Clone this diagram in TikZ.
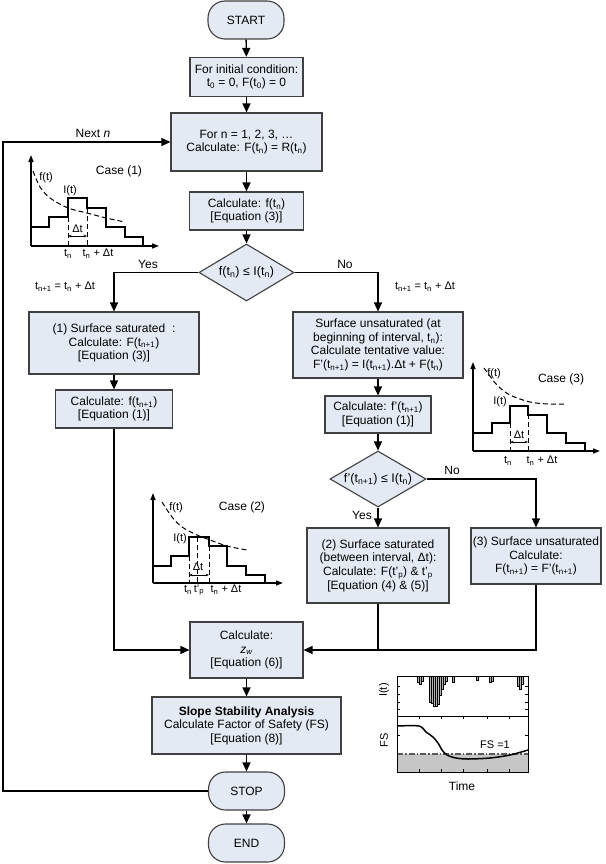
\documentclass[tikz,border=0pt]{standalone}
\usepackage{fontspec}
\setmainfont{Liberation Sans}
\usetikzlibrary{arrows.meta,shapes.geometric}
\definecolor{boxfill}{RGB}{228,234,244}
\definecolor{boxline}{RGB}{64,64,64}
\newcommand\sbs[1]{\textsubscript{#1}}
\newcommand\fs{\fontsize{12}{13.6}\selectfont}
\newcommand\fsm{\fontsize{11}{12}\selectfont}
\newcommand\fsd{\fontsize{12.5}{13}\selectfont}
\tikzset{
  proc/.style={draw=boxline, fill=boxfill, line width=1.1pt, align=center, inner sep=0pt, font=\fs},
  term/.style={proc, rounded corners=17pt, minimum width=76pt, minimum height=38pt},
  dia/.style={diamond, draw=boxline, fill=boxfill, line width=1.1pt, inner sep=0pt},
  arr/.style={-{Triangle[length=9pt,width=8pt]}, line width=1.4pt},
  ln/.style={line width=1.4pt},
  lbl/.style={font=\fs, inner sep=0pt},
  slbl/.style={font=\fsm, inner sep=0pt},
  ax/.style={-{Triangle[length=7pt,width=5pt]}, line width=1.3pt},
  stepl/.style={line width=1.2pt},
  dsh/.style={dash pattern=on 5pt off 3pt, line width=1pt},
  dt/.style={{Stealth[length=3.5pt]}-{Stealth[length=3.5pt]}, line width=0.6pt},
  bar/.style={fill=gray!60, draw=black, line width=0.4pt},
}
\begin{document}
\begin{tikzpicture}[x=1pt,y=-1pt]
\useasboundingbox (0,0) rectangle (605,864);

% ---- main column ----
\node[term] (start) at (246,20) {START};
\node[proc, minimum width=113pt, minimum height=39pt] (init) at (246.5,77) {For initial condition:\\ t\sbs{0} = 0, F(t\sbs{0}) = 0};
\node[proc, minimum width=151pt, minimum height=58pt] (forn) at (246.5,142) {For n = 1, 2, 3, …\\ Calculate: F(t\sbs{n}) = R(t\sbs{n})};
\node[proc, minimum width=114pt, minimum height=38pt] (calcf) at (246.5,211) {Calculate: f(t\sbs{n})\\ {[Equation (3)]}};
\node[dia, minimum width=95pt, minimum height=57pt] (d1) at (246.5,272.5) {};
\node[font=\fsd] (d1t) at (d1) {f(t\sbs{n}) ≤ I(t\sbs{n})};

% ---- left branch ----
\node[proc, minimum width=170pt, minimum height=62pt] (box1) at (114,343) {(1) Surface saturated~~:\\ Calculate: F(t\sbs{n+1})\\ {[Equation (3)]}};
\node[proc, minimum width=117pt, minimum height=38pt] (calc1) at (114,409) {Calculate: f(t\sbs{n+1})\\ {[Equation (1)]}};

% ---- right branch ----
\node[proc, minimum width=170pt, minimum height=66pt] (boxr) at (378,345) {Surface unsaturated (at\\ beginning of interval, t\sbs{n}):\\ Calculate tentative value:\\ F'(t\sbs{n+1}) = I(t\sbs{n+1}).Δt + F(t\sbs{n})};
\node[proc, minimum width=106pt, minimum height=37pt] (calcp) at (378,414.5) {Calculate: f'(t\sbs{n+1})\\ {[Equation (1)]}};
\node[dia, minimum width=96pt, minimum height=56pt] (d2) at (378,479) {};
\node[font=\fsd] (d2t) at (d2) {f'(t\sbs{n+1}) ≤ I(t\sbs{n})};
\node[proc, minimum width=142pt, minimum height=75pt] (box2) at (378,565.5) {(2) Surface saturated\\ (between interval, Δt):\\ Calculate: F(t'\sbs{p}) \& t'\sbs{p}\\ {[Equation (4) \& (5)]}};
\node[proc, minimum width=130pt, minimum height=56pt] (box3) at (536,556) {(3) Surface unsaturated\\ Calculate:\\ F(t\sbs{n+1}) = F'(t\sbs{n+1})};

% ---- bottom ----
\node[proc, minimum width=113pt, minimum height=56pt] (zw) at (246.5,650) {Calculate:\\ \textit{z\sbs{w}}\\ {[Equation (6)]}};
\node[proc, minimum width=189pt, minimum height=57pt] (slope) at (246.5,725.5) {\textbf{Slope Stability Analysis}\\ Calculate Factor of Safety (FS)\\ {[Equation (8)]}};
\node[term] (stop) at (246.5,791) {STOP};
\node[term] (end) at (246.5,843) {END};
\coordinate (loop) at (3,791);

% ---- connectors ----
\draw[arr] (start) -- (init);
\draw[arr] (init) -- (forn);
\draw[arr] (forn) -- (calcf);
\draw[arr] (calcf) -- (d1);
\draw[arr] (d1.west) -| (box1.north);
\draw[arr] (d1.east) -| (boxr.north);
\draw[arr] (box1) -- (calc1);
\draw[arr] (boxr) -- (calcp);
\draw[arr] (calcp) -- (d2);
\draw[arr] (d2) -- (box2);
\draw[arr] (d2.east) -| (box3.north);
\draw[ln] (box2.south) -- (box2.south |- zw.east);
\draw[arr] (box3.south) |- (zw.east);
\draw[arr] (calc1.south) |- (zw.west);
\draw[arr] (zw) -- (slope);
\draw[arr] (slope) -- (stop);
\draw[arr] (stop) -- (end);
\draw[arr] (stop.west) -- (loop) |- (forn.west);

% ---- labels ----
\node[lbl] (nextn) at (93,133) {Next \textit{n}};
\node[lbl] (yes1) at (148,264) {Yes};
\node[lbl] (no1) at (345,264) {No};
\node[slbl] (tl) at (65,287) {t\sbs{n+1} = t\sbs{n} + Δt};
\node[slbl] (tr) at (425,287) {t\sbs{n+1} = t\sbs{n} + Δt};
\node[lbl] (yes2) at (362,515) {Yes};
\node[lbl] (no2) at (452,470) {No};

% ---- Case (1) ----
\draw[ax] (31,246) -- (31,155);
\draw[ax] (31,246) -- (159,246);
\draw[stepl] (31,227) -- (49,227) -- (49,217) -- (68,217) -- (68,198) -- (87,198) -- (87,208) -- (106,208) -- (106,227) -- (125,227) -- (125,237) -- (143,237) -- (143,246);
\draw[dsh] (68,217) -- (68,246);
\draw[dsh] (87,208) -- (87,246);
\draw[dsh] plot[smooth] coordinates {(33,171) (40,187) (50,198) (68,208) (87,213) (106,218) (125,222)};
\draw[dt] (68,236) -- (87,236);
\node[slbl] (c1dt) at (77.5,229) {Δt};
\node[slbl] (c1f) at (46,178) {f(t)};
\node[slbl] (c1i) at (70,191) {I(t)};
\node[lbl] (c1c) at (119,171) {Case (1)};
\node[slbl] (c1a) at (68,254) {t\sbs{n}};
\node[slbl] (c1b) at (98,254) {t\sbs{n} + Δt};

% ---- Case (2) ----
\draw[ax] (153,583) -- (153,493);
\draw[ax] (153,583) -- (283,583);
\draw[stepl] (153,566) -- (171,566) -- (171,556) -- (189,556) -- (189,537) -- (209,537) -- (209,546) -- (227,546) -- (227,566) -- (246,566) -- (246,575) -- (265,575) -- (265,583);
\draw[dsh] (189,556) -- (189,583);
\draw[dsh] (197,537) -- (197,583);
\draw[dsh] (209,546) -- (209,583);
\draw[dsh] plot[smooth] coordinates {(162,502) (172,517) (182,527) (197,535) (210,540) (227,546) (247,550)};
\draw[dt] (189,575) -- (209,575);
\node[slbl] (c2dt) at (198,567) {Δt};
\node[slbl] (c2f) at (176,508) {f(t)};
\node[slbl] (c2i) at (180,539) {I(t)};
\node[lbl] (c2c) at (242,507) {Case (2)};
\node[slbl] (c2a) at (188,590) {t\sbs{n}};
\node[slbl] (c2p) at (199,590) {t'\sbs{p}};
\node[slbl] (c2b) at (226,590) {t\sbs{n} + Δt};

% ---- Case (3) ----
\draw[ax] (473,451) -- (473,362);
\draw[ax] (473,451) -- (600,451);
\draw[stepl] (473,433) -- (492,433) -- (492,423) -- (510,423) -- (510,406) -- (528,406) -- (528,415) -- (547,415) -- (547,433) -- (566,433) -- (566,443) -- (585,443) -- (585,451);
\draw[dsh] (510,423) -- (510,451);
\draw[dsh] (528,406) -- (528,451);
\draw[dsh] plot[smooth] coordinates {(484,368) (497,385) (510,395) (530,402) (548,404) (566,404)};
\draw[dt] (510,442) -- (528,442);
\node[slbl] (c3dt) at (519,435) {Δt};
\node[slbl] (c3f) at (494,374) {f(t)};
\node[slbl] (c3i) at (500,402) {I(t)};
\node[lbl] (c3c) at (561,379) {Case (3)};
\node[slbl] (c3a) at (508,461) {t\sbs{n}};
\node[slbl] (c3b) at (542,461) {t\sbs{n} + Δt};

% ---- FS plot ----
\fill[gray!45] (397,754) rectangle (528,772);
\draw[gray!70!black, line width=1.2pt, dash pattern=on 6pt off 2pt on 1.5pt off 2pt] (397,754) -- (528,754);
\foreach \x/\b in {418/682,420/684,422/681,430/702,432/703,434/706,436/706,438/704,440/695,442/689,444/684,446/681,453/682,477/680,490/682,492/681,518/686,520/689,522/684}{
  \draw[bar] (\x-0.9,676) rectangle (\x+0.9,\b);
}
\draw[line width=0.9pt] (397,676) rectangle (528,772);
\draw[line width=0.9pt] (397,716) -- (528,716);
\foreach \y in {686,694,702,709}{
  \draw[line width=0.7pt] (397,\y) -- (400,\y);
  \draw[line width=0.7pt] (528,\y) -- (525,\y);
}
\draw[line width=0.7pt] (397,735) -- (400,735);
\draw[line width=0.7pt] (528,735) -- (525,735);
\foreach \x in {419,441,463,487,509}{
  \draw[line width=0.7pt] (\x,772) -- (\x,769);
  \draw[line width=0.7pt] (\x,716) -- (\x,719);
}
\draw[line width=1.5pt] plot[smooth] coordinates {(397,726) (419,726) (426,732) (433,737) (438,743) (442,750) (447,755) (456,758) (468,759) (490,758) (510,755) (528,750)};
\node[slbl, rotate=90] (pi) at (384,690) {I(t)};
\node[slbl, rotate=90] (pfs) at (384,740) {FS};
\node[slbl] (pone) at (495,745) {FS =1};
\node[lbl] (ptime) at (462,786) {Time};
\end{tikzpicture}
\end{document}
